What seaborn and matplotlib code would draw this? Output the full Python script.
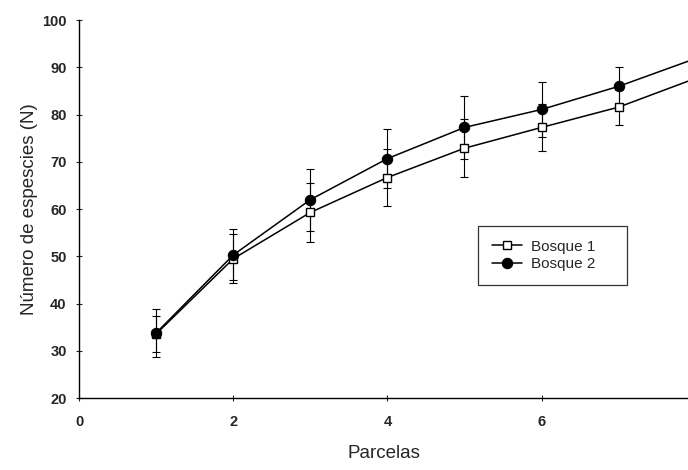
import numpy as np
import pandas as pd
import matplotlib
matplotlib.use('Agg')
import matplotlib.pyplot as plt
import seaborn as sns

# Values
parcelas = [1, 2, 3, 4, 5, 6, 7, 8]
bosque1 = [33.6, 49.5, 59.3, 66.7, 72.9, 77.3, 81.6, 87.7]
bosque1_err = [3.8, 5.2, 6.2, 6.1, 6.1, 5.0, 3.7, 3.7]
bosque2 = [33.8, 50.3, 62.0, 70.7, 77.3, 81.1, 86.0, 91.9]
bosque2_err = [5.0, 5.4, 6.6, 6.2, 6.6, 5.8, 4.1, 4.1]
series_names = ['Bosque 1', 'Bosque 2']

df = pd.DataFrame({
    'Parcelas': parcelas * 2,
    'N': bosque1 + bosque2,
    'err': bosque1_err + bosque2_err,
    'Bosque': [series_names[0]] * len(parcelas) + [series_names[1]] * len(parcelas),
})

sns.set_style('ticks')
plt.rcParams['font.family'] = ['Liberation Sans', 'DejaVu Sans']

fig = plt.figure(figsize=(6.88, 4.70), dpi=100)
ax = fig.add_axes([0.115, 0.153, 0.885, 0.804])

# error bars first, lines and markers on top
for name in series_names:
    sub = df[df['Bosque'] == name]
    ax.errorbar(sub['Parcelas'], sub['N'], yerr=sub['err'], fmt='none',
                ecolor='black', elinewidth=0.8, capsize=3, capthick=0.8, zorder=2)

sns.lineplot(data=df, x='Parcelas', y='N', hue='Bosque', style='Bosque',
             palette=['black', 'black'], markers={'Bosque 1': 's', 'Bosque 2': 'o'},
             dashes=False, linewidth=1.1, ax=ax, zorder=3)

# square markers open, circles filled
for line in ax.get_lines():
    if line.get_marker() == 's':
        line.set_markerfacecolor('white')
        line.set_markeredgecolor('black')
        line.set_markersize(5.5)
        line.set_markeredgewidth(1.0)
    elif line.get_marker() == 'o':
        line.set_markerfacecolor('black')
        line.set_markeredgecolor('black')
        line.set_markersize(7.5)

ax.set_xlim(0, 7.9)
ax.set_ylim(20, 100)
ax.set_xticks([0, 2, 4, 6])
ax.set_yticks(range(20, 101, 10))
ax.tick_params(direction='inout', length=4, width=0.8, labelsize=10.5)
ax.tick_params(axis='y', pad=7)
ax.tick_params(axis='x', pad=10)
for lab in ax.get_xticklabels() + ax.get_yticklabels():
    lab.set_fontweight('bold')
ax.set_xlabel('Parcelas', fontsize=13.5, labelpad=12)
ax.set_ylabel('Número de espescies (N)', fontsize=13.5, labelpad=3)
sns.despine(ax=ax)
for sp in ['left', 'bottom']:
    ax.spines[sp].set_linewidth(1.0)
    ax.spines[sp].set_color('black')

handles, labels = ax.get_legend_handles_labels()
for h in handles:
    if h.get_marker() == 's':
        h.set_markerfacecolor('white')
        h.set_markeredgecolor('black')
        h.set_markersize(5.5)
    else:
        h.set_markerfacecolor('black')
        h.set_markersize(7.5)
leg = ax.legend(handles, labels, loc='lower left', bbox_to_anchor=(0.655, 0.299, 0.245, 0.156),
                mode='expand', borderaxespad=0, frameon=True, fancybox=False,
                edgecolor='black', fontsize=11, handlelength=2.0, borderpad=0.9,
                labelspacing=0.25, handletextpad=0.6)
leg.get_frame().set_linewidth(0.9)

fig.savefig('out.png', dpi=100)
